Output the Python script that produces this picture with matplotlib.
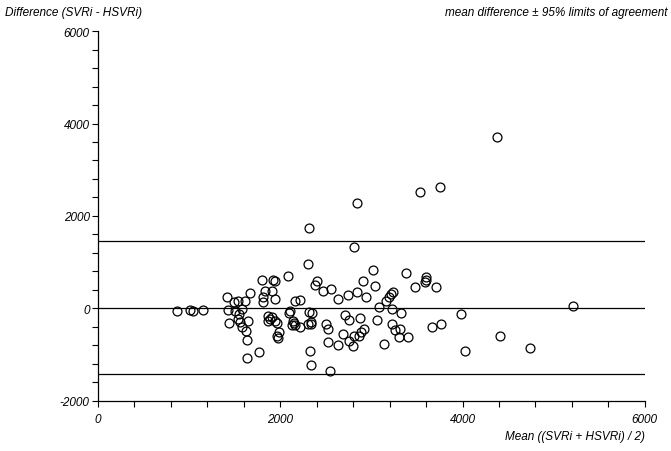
import matplotlib
matplotlib.use('Agg')
import matplotlib.pyplot as plt
from matplotlib.ticker import MultipleLocator

plt.rcParams['font.family'] = ['Liberation Sans', 'DejaVu Sans']
plt.rcParams['axes.unicode_minus'] = False

# mean of the two methods (x) and their difference (y)
mean_vals = [870, 1009, 1045, 1148, 1411, 1429, 1436, 1491, 1535, 1506,
             1546, 1576, 1612, 1667, 1538, 1563, 1582, 1623, 1641, 1630,
             1765, 1637, 1795, 1813, 1831, 1813, 1916, 1941, 1905, 1941,
             1867, 1886, 1867, 1905, 1941, 1959, 1990, 1959, 1977, 2087,
             2105, 2100, 2299, 2160, 2220, 2379, 2405, 2464, 2555, 2637,
             2745, 2837, 2909, 2939, 2314, 2343, 2135, 2149, 2127, 2166,
             2215, 2306, 2332, 2341, 2500, 2522, 2525, 2632, 2712, 2756,
             2873, 2690, 2756, 2796, 2807, 2862, 2891, 2917, 2325, 2336,
             2544, 2810, 2837, 2314, 3019, 3385, 3597, 3602, 3593, 3476,
             3714, 3037, 3238, 3218, 3194, 3158, 3081, 3227, 3328, 3056,
             3231, 3262, 3319, 3304, 3402, 3138, 3662, 3769, 3988, 4032,
             3531, 3758, 4383, 5212, 4408, 4737]
diff_vals = [-48, -26, -54, -32, 242, -32, -313, 134, 169, -48,
             -119, -11, 162, 335, -227, -303, -406, -480, -264, -681,
             -940, -1077, 623, 255, 368, 134, 623, 588, 378, 205,
             -156, -227, -264, -190, -264, -324, -508, -601, -649, 692,
             -48, -108, 956, 169, 177, 508, 595, 385, 411, 205,
             292, 350, 588, 242, -76, -97, -264, -313, -357, -368,
             -406, -335, -298, -346, -335, -454, -718, -789, -141, -242,
             -205, -545, -703, -822, -588, -601, -508, -450, -912, -1232,
             -1358, 1319, 2274, 1734, 832, 757, 675, 623, 579, 454,
             471, 486, 363, 303, 255, 169, 26, -11, -91, -244,
             -335, -461, -443, -623, -623, -768, -406, -346, -119, -930,
             2512, 2620, 3708, 48, -601, -848]

# mean difference and 95% limits of agreement
agreement_lines = [16, 1449, -1416]

fig = plt.figure(figsize=(6.71, 4.52), dpi=100)
ax = fig.add_axes([0.146, 0.111, 0.815, 0.818])

for yv in agreement_lines:
    ax.axhline(yv, color='black', lw=0.9, zorder=1)

ax.plot(mean_vals, diff_vals, 'o', ms=6.4, mfc='none', mec='black',
        mew=0.9, zorder=2, clip_on=False)

ax.set_xlim(0, 6000)
ax.set_ylim(-2000, 6000)
ax.xaxis.set_major_locator(MultipleLocator(2000))
ax.xaxis.set_minor_locator(MultipleLocator(400))
ax.yaxis.set_major_locator(MultipleLocator(2000))
ax.yaxis.set_minor_locator(MultipleLocator(400))

for s in ['top', 'right']:
    ax.spines[s].set_visible(False)
for s in ['left', 'bottom']:
    ax.spines[s].set_linewidth(0.9)

ax.tick_params(which='both', direction='out', length=4, width=0.8,
               labelsize=8.5)
ax.tick_params(axis='x', pad=5)
ax.tick_params(axis='y', pad=2)
for lab in ax.get_xticklabels() + ax.get_yticklabels():
    lab.set_fontstyle('italic')

fig.text(0.008, 0.972, 'Difference (SVRi - HSVRi)', fontsize=8.5,
         style='italic', ha='left', va='center')
fig.text(0.995, 0.972, 'mean difference \u00b1 95% limits of agreement',
         fontsize=8.5, style='italic', ha='right', va='center')
fig.text(0.961, 0.033, 'Mean ((SVRi + HSVRi) / 2)', fontsize=8.5,
         style='italic', ha='right', va='center')

fig.savefig('out.png', dpi=100)
